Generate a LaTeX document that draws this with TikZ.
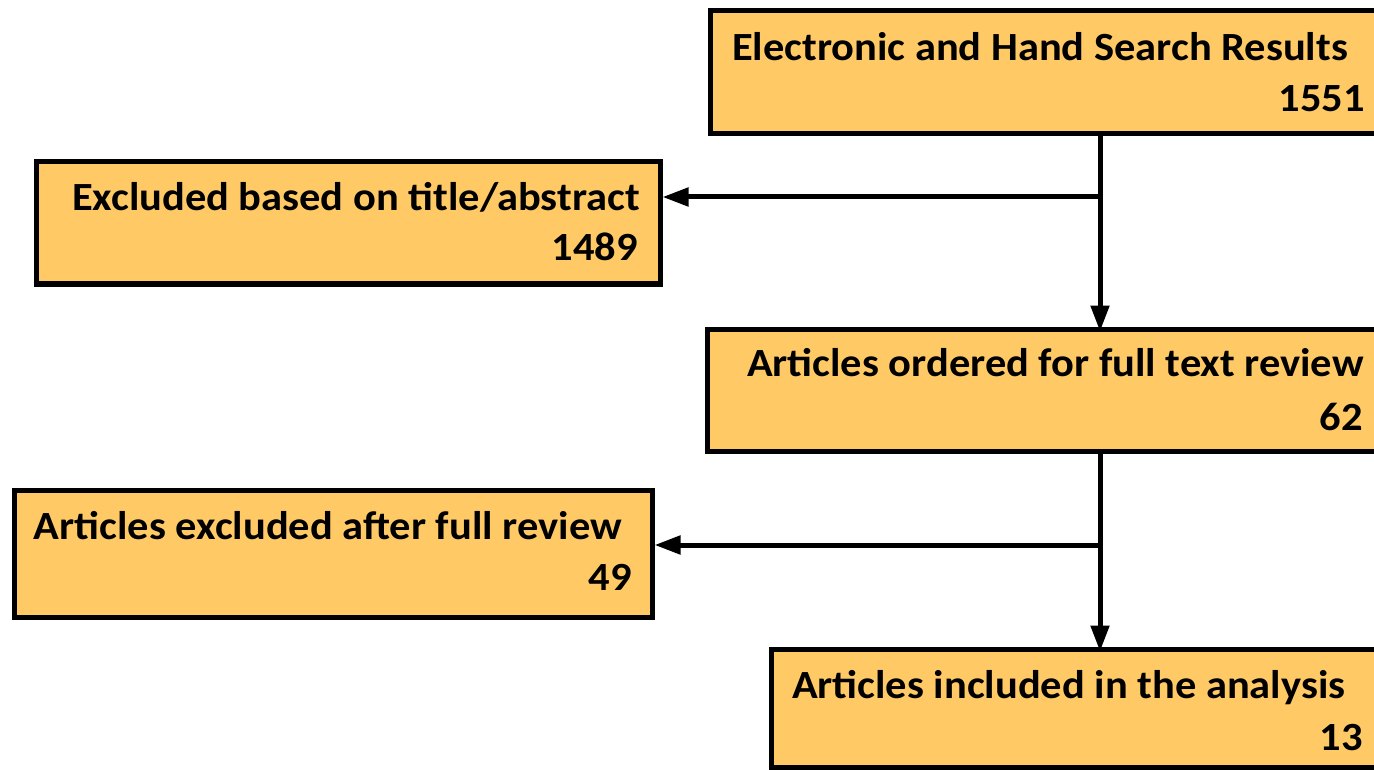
\documentclass[tikz,border=0pt]{standalone}
\usepackage{fontspec}
\setmainfont{Carlito}[FakeStretch=1.062]
\usetikzlibrary{arrows.meta}
\definecolor{boxfill}{RGB}{255,202,102}
\tikzset{
  box/.style={draw=black, line width=5pt, fill=boxfill, inner sep=0pt, outer sep=0pt, rectangle},
  lbl/.style={inner sep=0pt, outer sep=0pt, font=\fontsize{40}{48}\selectfont\bfseries},
  conn/.style={line width=5pt, draw=black},
  arr/.style={conn, -{Triangle[length=26pt,width=18pt]}}
}
\begin{document}
\begin{tikzpicture}[x=1pt,y=-1pt]
\useasboundingbox (0,0) rectangle (1374,770);
\clip (0,0) rectangle (1374,770);
% boxes
\node[box, minimum width=680pt, minimum height=123pt] (b1) at (1050,72.5) {};
\node[box, minimum width=624pt, minimum height=122pt] (b2) at (348,223) {};
\node[box, minimum width=683pt, minimum height=122pt] (b3) at (1048.5,390) {};
\node[box, minimum width=638pt, minimum height=127pt] (b4) at (333,553.5) {};
\node[box, minimum width=619pt, minimum height=118pt] (b5) at (1080.5,708) {};
% texts
\node[lbl, anchor=base west] (t1a) at (732,61) {Electronic and Hand Search Results};
\node[lbl, anchor=base east] (t1b) at (1365,112) {1551};
\node[lbl, anchor=base west] (t2a) at (72,211) {Excluded based on title/abstract};
\node[lbl, anchor=base east] (t2b) at (638,261) {1489};
\node[lbl, anchor=base west] (t3a) at (747,376) {Articles ordered for full text review};
\node[lbl, anchor=base east] (t3b) at (1363,430) {62};
\node[lbl, anchor=base west] (t4a) at (34,539) {Articles excluded after full review};
\node[lbl, anchor=base east] (t4b) at (632,590) {49};
\node[lbl, anchor=base west] (t5a) at (792,698) {Articles included in the analysis};
\node[lbl, anchor=base east] (t5b) at (1363,750) {13};
% connectors
\coordinate (j1) at (1100,197);
\coordinate (j2) at (1100,545);
\draw[arr] (b1.south -| j1) -- ([yshift=-2.5pt]b3.north -| j1);
\draw[arr] (j1) -- ([xshift=2.5pt]b2.east |- j1);
\draw[arr] (b3.south -| j2) -- ([yshift=-2.5pt]b5.north -| j2);
\draw[arr] (j2) -- ([xshift=2.5pt]b4.east |- j2);
\end{tikzpicture}
\end{document}
